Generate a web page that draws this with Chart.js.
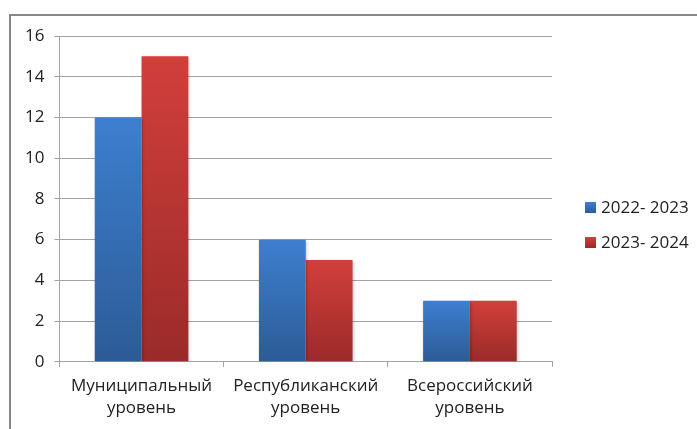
<!DOCTYPE html>
<html>
<head>
<meta charset="utf-8">
<script src="https://cdn.jsdelivr.net/npm/chart.js@4"></script>
<style>
  html, body { margin: 0; padding: 0; background: #fff; }
  #wrap { position: relative; width: 697px; height: 429px; overflow: hidden; }
  #frame { position: absolute; left: 9px; top: 14px; width: 720px; height: 450px; border: 2px solid #878787; box-sizing: border-box; }
  #chart { position: absolute; left: 0; top: 0; }
</style>
</head>
<body>
<div id="wrap">
  <div id="frame"></div>
  <canvas id="chart" width="697" height="429"></canvas>
</div>
<script>
// данные
const categories = [["Муниципальный", "уровень"], ["Республиканский", "уровень"], ["Всероссийский", "уровень"]];
const seriesNames = ["2022- 2023", "2023- 2024"];
const values2223 = [12, 6, 3];
const values2324 = [15, 5, 3];
const yTicks = [0, 2, 4, 6, 8, 10, 12, 14, 16];

const FONT = "'Open Sans', 'Liberation Sans', sans-serif";
const TEXT = "#222222";
const GRID = "#a3a3a3";

const colors = [
  {top: "#3d7fcf", bottom: "#2c5b96", mid: "#356cb4"},
  {top: "#d23f3b", bottom: "#9a2b29", mid: "#bb3633"}
];

// градиент по высоте каждого столбца
function barGrad(c, col) {
  const chart = c.chart;
  if (!chart.chartArea || c.raw === undefined) return col.mid;
  const y = chart.scales.y;
  const g = chart.ctx.createLinearGradient(0, y.getPixelForValue(c.raw), 0, y.getPixelForValue(0));
  g.addColorStop(0, col.top);
  g.addColorStop(1, col.bottom);
  return g;
}

// тень у столбцов
const shadowPlugin = {
  id: "barShadow",
  beforeDatasetsDraw(chart) {
    const ctx = chart.ctx;
    ctx.save();
    ctx.shadowColor = "rgba(0,0,0,0.3)";
    ctx.shadowBlur = 3;
    ctx.shadowOffsetX = 1;
    ctx.shadowOffsetY = 1;
  },
  afterDatasetsDraw(chart) {
    chart.ctx.restore();
  }
};

// легенда справа
const legendPlugin = {
  id: "sideLegend",
  afterDraw(chart) {
    const ctx = chart.ctx;
    const x = chart.chartArea.right + 33;
    const y0 = 207;
    ctx.save();
    chart.data.datasets.forEach((ds, i) => {
      const cy = y0 + i * 35;
      const g = ctx.createLinearGradient(0, cy - 5, 0, cy + 6);
      g.addColorStop(0, colors[i].top);
      g.addColorStop(1, colors[i].bottom);
      ctx.fillStyle = g;
      ctx.fillRect(x, cy - 5, 11, 11);
      ctx.fillStyle = TEXT;
      ctx.font = "17px " + FONT;
      ctx.textBaseline = "middle";
      ctx.fillText(ds.label, x + 16, cy + 1);
    });
    ctx.restore();
  }
};

new Chart(document.getElementById("chart"), {
  type: "bar",
  data: {
    labels: categories,
    datasets: [
      {label: seriesNames[0], data: values2223, backgroundColor: c => barGrad(c, colors[0])},
      {label: seriesNames[1], data: values2324, backgroundColor: c => barGrad(c, colors[1])}
    ]
  },
  options: {
    responsive: false,
    animation: false,
    devicePixelRatio: 1,
    layout: { padding: { left: 15, right: 145, top: 36, bottom: 2 } },
    plugins: { legend: { display: false }, tooltip: { enabled: false } },
    datasets: { bar: { categoryPercentage: 0.57, barPercentage: 1 } },
    scales: {
      x: {
        grid: { drawOnChartArea: false, color: GRID, tickLength: 5 },
        border: { color: GRID },
        ticks: { color: TEXT, font: { family: FONT, size: 17, lineHeight: 1.3 }, padding: 8, maxRotation: 0 }
      },
      y: {
        min: 0,
        max: 16,
        afterBuildTicks: s => { s.ticks = yTicks.map(v => ({value: v})); },
        grid: { color: GRID, tickLength: 5 },
        border: { color: GRID },
        ticks: { color: TEXT, font: { family: FONT, size: 17 }, padding: 10 }
      }
    }
  },
  plugins: [shadowPlugin, legendPlugin]
});
</script>
</body>
</html>
